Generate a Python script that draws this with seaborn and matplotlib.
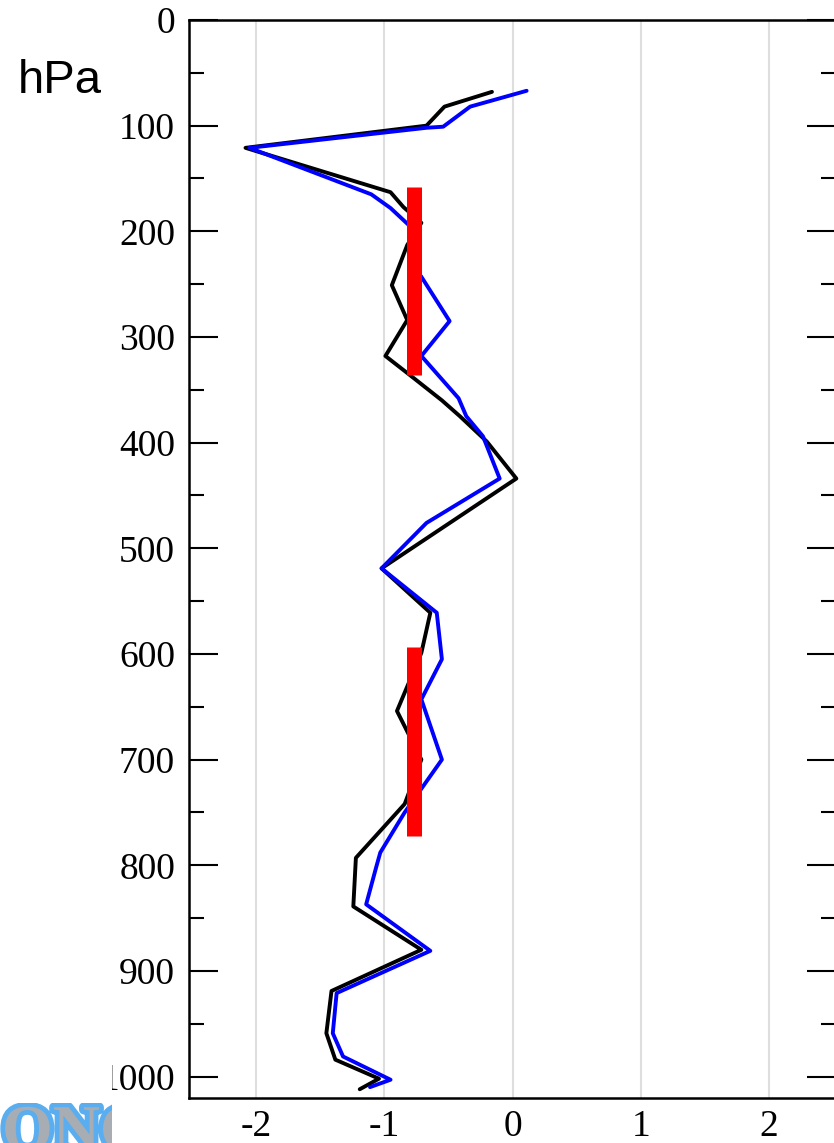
import matplotlib
matplotlib.use("Agg")
import matplotlib.pyplot as plt
from matplotlib.patches import Rectangle
import matplotlib.patheffects as pe
import numpy as np
import pandas as pd
import seaborn as sns

# ---- data ----
black_x = [-0.16, -0.53, -0.67, -2.08, -0.95, -0.85, -0.71, -0.82, -0.94, -0.82,
           -0.99, -0.80, -0.55, -0.41, -0.20, 0.03, -1.02, -0.64, -0.71, -0.90,
           -0.71, -0.84, -1.22, -1.24, -0.71, -1.41, -1.45, -1.38, -1.04, -1.19]
black_p = [68, 82, 100, 121, 163, 177, 192, 213, 251, 284,
           318, 336, 360, 375, 399, 434, 519, 561, 599, 654,
           700, 742, 793, 839, 880, 919, 959, 984, 1002, 1012]

blue_x = [0.11, -0.33, -0.54, -0.67, -2.05, -1.10, -0.95, -0.80, -0.76, -0.76,
          -0.71, -0.49, -0.71, -0.42, -0.36, -0.23, -0.10, -0.67, -1.02, -0.59,
          -0.55, -0.71, -0.55, -0.84, -1.03, -1.06, -1.14, -0.64, -1.37, -1.40,
          -1.32, -0.95, -1.11]
blue_p = [67, 82, 101, 102, 121, 165, 178, 195, 215, 235,
          243, 285, 318, 358, 375, 394, 434, 476, 519, 561,
          605, 643, 700, 750, 788, 801, 837, 881, 921, 959,
          981, 1003, 1010]

bar_x = [-0.77, -0.77]
bar_top = [158, 593]
bar_bottom = [336, 772]

x_ticks = [-2, -1, 0, 1, 2]
y_ticks = list(range(0, 1001, 100))
y_minor = list(range(50, 1000, 100))

# ---- style ----
sns.set_style("white")
plt.rcParams["font.family"] = ["Liberation Serif", "DejaVu Serif"]
plt.rcParams["axes.unicode_minus"] = False
plt.rcParams["text.color"] = "black"
plt.rcParams["xtick.color"] = "black"
plt.rcParams["ytick.color"] = "black"

W, H = 834, 1143
fig = plt.figure(figsize=(W / 100, H / 100), dpi=100)
ax = fig.add_axes([189 / W, (H - 1097.7) / H, (836 - 189) / W, (1097.7 - 20) / H])

df_black = pd.DataFrame({"x": black_x, "p": black_p})
df_blue = pd.DataFrame({"x": blue_x, "p": blue_p})

sns.lineplot(data=df_black, x="x", y="p", sort=False, estimator=None,
             color="black", lw=2.8, ax=ax, zorder=3)
sns.lineplot(data=df_blue, x="x", y="p", sort=False, estimator=None,
             color="#0000ff", lw=2.8, ax=ax, zorder=4)
ax.vlines(bar_x, bar_top, bar_bottom, colors="#ff0000", lw=10.8, zorder=5,
          capstyle="butt")

ax.set_xlim(-2.52, 2.52)
ax.set_ylim(1020, 0)
ax.set_xlabel("")
ax.set_ylabel("")

ax.set_xticks(x_ticks)
ax.set_xticklabels([str(v) for v in x_ticks])
ax.set_yticks(y_ticks)
ax.set_yticklabels([str(v) for v in y_ticks])
ax.set_yticks(y_minor, minor=True)

ax.grid(False)
for xv in x_ticks:
    ax.axvline(xv, color="#dedede", lw=1.5, zorder=1)

ax.tick_params(axis="x", which="both", length=0, pad=8.5, labelsize=27,
               labelcolor="black")
ax.tick_params(axis="y", which="major", direction="in", length=21, width=1.5,
               left=True, right=True, labelsize=27, pad=10, color="black",
               labelcolor="black")
ax.tick_params(axis="y", which="minor", direction="in", length=11, width=1.5,
               left=True, right=True, color="black")

for s in ax.spines.values():
    s.set_color("black")
    s.set_linewidth(1.8)

# axis unit label
fig.text(18 / W, (H - 93) / H, "hPa", fontsize=34, color="black",
         family=["Liberation Sans", "DejaVu Sans"], ha="left", va="baseline")

# white patch partially covering the 1000 label and logo in the corner (as in the reference)
fig.patches.append(Rectangle((0, 0), 112 / W, (H - 1045) / H, transform=fig.transFigure,
                             facecolor="white", edgecolor="none", zorder=10))
logo = fig.text(2 / W, (H - 1150) / H, "ONC", fontsize=47, fontweight="bold",
                family=["Liberation Serif", "DejaVu Serif"], color="#a7adb3",
                ha="left", va="baseline", zorder=11,
                path_effects=[pe.withStroke(linewidth=7, foreground="#5aaef0")])
clip = Rectangle((0, 0), 112 / W, (H - 1103) / H, transform=fig.transFigure)
logo.set_clip_path(clip)

fig.savefig("out.png", dpi=100)
